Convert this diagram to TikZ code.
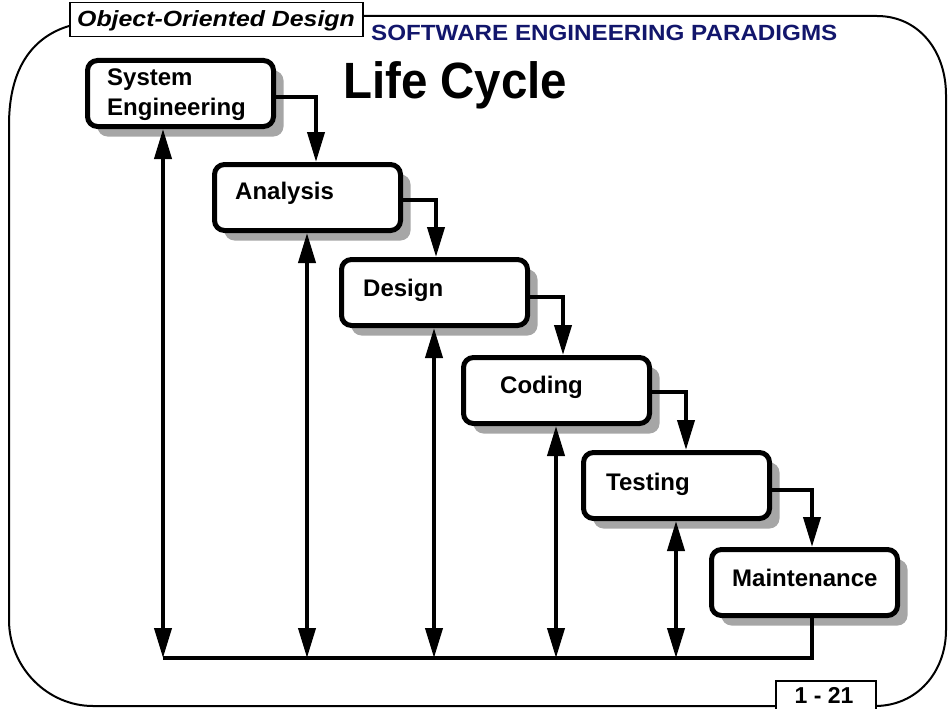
\documentclass[tikz,border=0pt]{standalone}
\usepackage{fontspec}
\setmainfont{Liberation Sans}
\usetikzlibrary{arrows.meta}
\definecolor{navy}{RGB}{18,22,108}
\definecolor{shadowgray}{RGB}{166,166,166}
\begin{document}
\begin{tikzpicture}[x=1pt,y=-1pt,
  stage/.style={draw, line width=5pt, rounded corners=10pt, fill=white,
    minimum width=186pt, minimum height=66pt, inner sep=0pt,
    preaction={fill=shadowgray, draw=none, transform canvas={shift={(10pt,-10pt)}}}},
  stagetext/.style={anchor=base west, inner sep=0pt, font=\fontsize{24}{30}\selectfont\bfseries},
  frame/.style={line width=2pt},
  tipa/.tip={Triangle[length=30pt,width=17pt]},
  flow/.style={line width=4pt, -tipa},
  feedback/.style={line width=4pt, tipa-tipa},
  bus/.style={line width=4pt, line join=miter}]
\useasboundingbox (0,0) rectangle (948,709);

% outer frame
\draw[frame] (362,16) -- (877,16) .. controls (918,16) and (946,50) .. (946,95)
  -- (946,630) .. controls (946,672) and (917,706) .. (875,706);
\draw[frame] (775,706) -- (93,706) .. controls (47,706) and (9,667) .. (9,620)
  -- (9,125) .. controls (9,64) and (36,36) .. (69,26);

% header
\node[draw, line width=1.5pt, fill=white, anchor=north west, minimum width=293pt,
  minimum height=34pt, inner sep=0pt] (hdr) at (69,2) {};
\node[anchor=base west, inner sep=0pt] (hdrtext) at (77,27)
  {\scalebox{1.13}[1]{\fontsize{22}{26}\selectfont\bfseries\itshape Object-Oriented Design}};
\node[anchor=base west, inner sep=0pt, text=navy] (paradigms) at (371,41)
  {\scalebox{1.10}[1]{\fontsize{22}{26}\selectfont\bfseries SOFTWARE ENGINEERING PARADIGMS}};
\node[anchor=base west, inner sep=0pt] (title) at (343,99)
  {\scalebox{0.93}[1]{\fontsize{51}{60}\selectfont\bfseries Life Cycle}};

% page number
\node[draw, line width=2pt, fill=white, anchor=north west, minimum width=100pt,
  minimum height=35pt, inner sep=0pt] (pg) at (775,680) {};
\node[anchor=base, inner sep=0pt, font=\fontsize{23}{28}\selectfont\bfseries] (pgtext) at (824,703) {1 - 21};

% stages
\node[stage] (se) at (180.5,93.5) {};
\node[stage] (an) at (307.5,197.5) {};
\node[stage] (de) at (434.5,292.5) {};
\node[stage] (co) at (556.5,390.5) {};
\node[stage] (te) at (676.5,485.5) {};
\node[stage] (ma) at (804.5,582.5) {};

\node[stagetext, align=left] (set) at (107,115) {System\\Engineering};
\node[stagetext] (ant) at (235,199) {Analysis};
\node[stagetext] (det) at (363,296) {Design};
\node[stagetext] (cot) at (500,393) {Coding};
\node[stagetext] (tet) at (606,490) {Testing};
\node[stagetext] (mat) at (732,586) {Maintenance};

% turn points of the waterfall connectors
\coordinate (t1) at (316,97);
\coordinate (t2) at (436,200);
\coordinate (t3) at (563,297);
\coordinate (t4) at (686,392);
\coordinate (t5) at (812,490);

\draw[flow] (se.east |- t1) -| (an.north -| t1);
\draw[flow] (an.east |- t2) -| (de.north -| t2);
\draw[flow] (de.east |- t3) -| (co.north -| t3);
\draw[flow] (co.east |- t4) -| (te.north -| t4);
\draw[flow] (te.east |- t5) -| (ma.north -| t5);

% return bus
\coordinate (b1) at (163,658);
\coordinate (b2) at (307,658);
\coordinate (b3) at (434,658);
\coordinate (b4) at (556,658);
\coordinate (b5) at (676,658);
\coordinate (b6) at (812,658);

\draw[bus] (ma.south -| b6) -- (b6) -- (b1);

\draw[feedback] (se.south -| b1) -- (b1);
\draw[feedback] (an.south -| b2) -- (b2);
\draw[feedback] (de.south -| b3) -- (b3);
\draw[feedback] (co.south -| b4) -- (b4);
\draw[feedback] (te.south -| b5) -- (b5);
\end{tikzpicture}
\end{document}
